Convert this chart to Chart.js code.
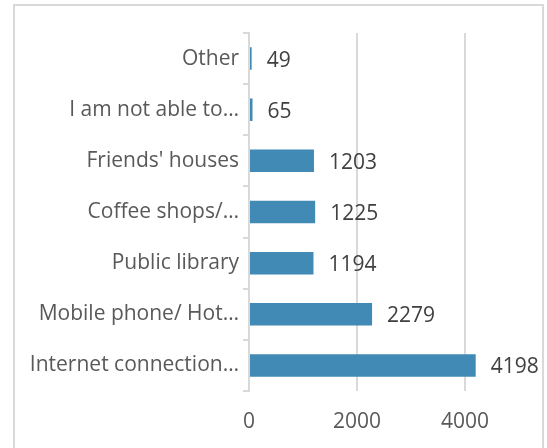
<!DOCTYPE html>
<html>
<head>
<meta charset="utf-8">
<script src="https://cdn.jsdelivr.net/npm/chart.js@4/dist/chart.umd.min.js"></script>
<style>
  html, body { margin: 0; padding: 0; background: #fff; }
  #wrap { position: relative; width: 547px; height: 448px; overflow: hidden; }
  #frame { position: absolute; left: 13px; top: 4px; width: 531px; height: 460px; border: 2px solid #d9d9d9; box-sizing: border-box; pointer-events: none; }
</style>
</head>
<body>
<div id="wrap">
  <canvas id="accessChart" width="547" height="448"></canvas>
  <div id="frame"></div>
</div>
<script>
// categories, top to bottom
var places = ["Other", "I am not able to\u2026", "Friends' houses", "Coffee shops/\u2026", "Public library", "Mobile phone/ Hot\u2026", "Internet connection\u2026"];
var counts = [49, 65, 1203, 1225, 1194, 2279, 4198];
var xTicks = [0, 2000, 4000];

var fontFamily = "'Open Sans', sans-serif";

// value labels to the right of each bar
var valueLabels = {
  id: 'valueLabels',
  afterDatasetsDraw: function(chart) {
    var ctx = chart.ctx;
    var meta = chart.getDatasetMeta(0);
    ctx.save();
    ctx.font = "21px " + fontFamily;
    ctx.fillStyle = "#404040";
    ctx.textAlign = "left";
    ctx.textBaseline = "middle";
    meta.data.forEach(function(bar, i) {
      ctx.fillText(String(counts[i]), bar.x + 15, bar.y + 2);
    });
    ctx.restore();
  }
};

var config = {
  type: 'bar',
  data: {
    labels: places,
    datasets: [{
      data: counts,
      backgroundColor: "#418ab5",
      borderWidth: 0,
      categoryPercentage: 1.0,
      barPercentage: 0.44
    }]
  },
  options: {
    indexAxis: 'y',
    responsive: false,
    animation: false,
    layout: { padding: { left: 0, top: 33, right: 28, bottom: 0 } },
    plugins: {
      legend: { display: false },
      tooltip: { enabled: false }
    },
    scales: {
      x: {
        min: 0,
        max: 5000,
        afterBuildTicks: function(scale) {
          scale.ticks = xTicks.map(function(v) { return { value: v }; });
        },
        afterFit: function(scale) { scale.height = 57; },
        grid: { color: "#d9d9d9", lineWidth: 2, drawTicks: false },
        border: { display: false },
        ticks: {
          color: "#595959",
          font: { family: fontFamily, size: 21 },
          padding: 18,
          callback: function(v) { return String(v); }
        }
      },
      y: {
        afterFit: function(scale) { scale.width = 249; },
        grid: { display: true, drawOnChartArea: false, color: "#d9d9d9", lineWidth: 2, tickLength: 6 },
        border: { display: true, color: "#d9d9d9", width: 2 },
        ticks: { color: "#595959", font: { family: fontFamily, size: 21 }, padding: 4 }
      }
    }
  },
  plugins: [valueLabels]
};

var ctx = document.getElementById("accessChart").getContext("2d");
var accessChart = new Chart(ctx, config);
</script>
</body>
</html>
